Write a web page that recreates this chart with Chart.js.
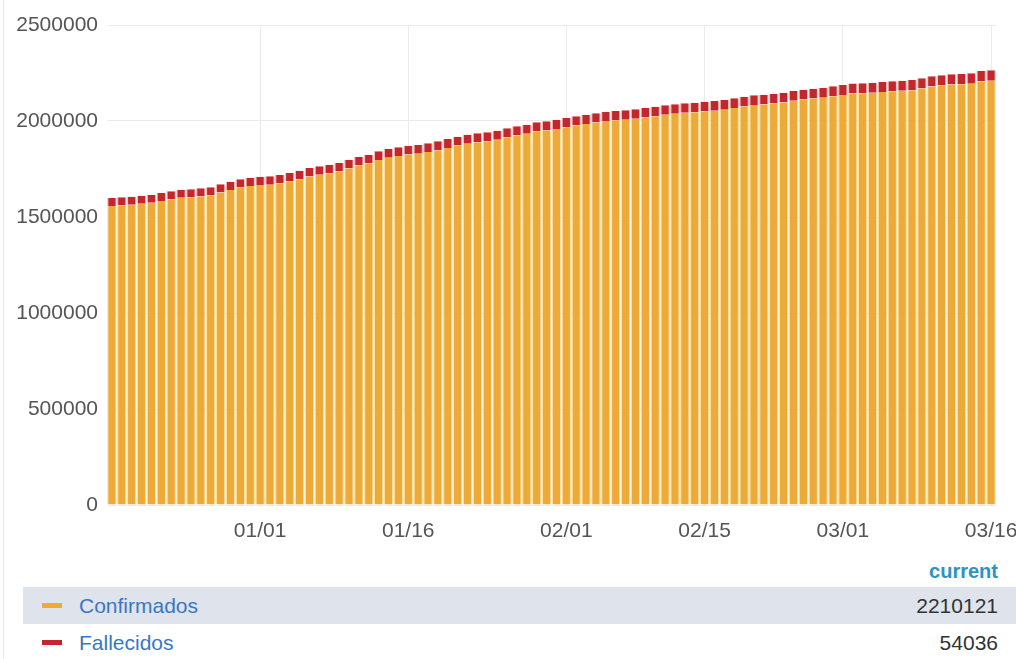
<!DOCTYPE html>
<html>
<head>
<meta charset="utf-8">
<script src="https://cdn.jsdelivr.net/npm/chart.js@4.4.1/dist/chart.umd.min.js"></script>
<style>
  html, body { margin: 0; padding: 0; background: #fff; }
  body { width: 1016px; height: 659px; position: relative; overflow: hidden; font-family: "Liberation Sans", Arial, sans-serif; }
  .frame { position: absolute; left: 3px; top: 0; bottom: 0; border-left: 1px solid #e9e9ee; }
  .chart-box { position: absolute; left: 0; top: 0; width: 1016px; height: 548px; }
  .legend { position: absolute; left: 23px; top: 556px; width: 993px; border-collapse: collapse; font-size: 21px; }
  .legend th { text-align: right; color: #2b93c6; font-weight: bold; font-size: 20px; height: 31px; padding: 0 18px 0 0; }
  .legend td { height: 37px; padding: 0; }
  .legend tr.alt td { background: #dfe3ec; }
  .legend .name { color: #3a77c4; padding-left: 56px; position: relative; }
  .legend .name i { position: absolute; left: 19px; top: 16px; width: 20px; height: 5px; }
  .legend .val { text-align: right; color: #333; padding-right: 18px; }
</style>
</head>
<body>
<div class="frame"></div>
<div class="chart-box"><canvas id="chart"></canvas></div>
<table class="legend" id="legend"></table>
<script>
// Casos acumulados por día (17/12 al 16/03), barras apiladas
const fechas = [
  "12/17","12/18","12/19","12/20","12/21","12/22","12/23","12/24","12/25","12/26","12/27","12/28","12/29","12/30","12/31",
  "01/01","01/02","01/03","01/04","01/05","01/06","01/07","01/08","01/09","01/10","01/11","01/12","01/13","01/14","01/15",
  "01/16","01/17","01/18","01/19","01/20","01/21","01/22","01/23","01/24","01/25","01/26","01/27","01/28","01/29","01/30","01/31",
  "02/01","02/02","02/03","02/04","02/05","02/06","02/07","02/08","02/09","02/10","02/11","02/12","02/13","02/14",
  "02/15","02/16","02/17","02/18","02/19","02/20","02/21","02/22","02/23","02/24","02/25","02/26","02/27","02/28",
  "03/01","03/02","03/03","03/04","03/05","03/06","03/07","03/08","03/09","03/10","03/11","03/12","03/13","03/14","03/15","03/16"
];

const confirmados = [
  1557558,1561044,1564019,1569097,1574216,1582990,1591674,1599837,1601761,1606819,1611887,1627412,1640874,1653204,1660847,
  1666416,1668409,1675100,1685347,1697156,1711048,1719732,1727906,1736660,1753757,1767640,1779439,1796967,1808777,1817471,
  1825704,1829270,1837954,1848201,1860010,1871829,1882086,1889287,1894416,1902589,1914929,1925186,1933369,1945719,1950837,1958550,
  1967745,1976419,1984582,1991704,1999917,2003473,2006949,2011987,2018588,2025189,2032311,2037409,2042527,2045482,
  2050000,2053997,2059035,2067729,2075952,2083154,2086109,2091147,2096186,2104870,2111481,2116579,2121697,2128819,
  2135420,2143062,2143944,2146909,2150445,2154001,2156956,2160432,2169116,2179372,2184421,2189529,2191002,2194537,2206447,2210121
];

const fallecidos = [
  41400,41560,41710,41840,41930,42010,42180,42350,42510,42660,42800,42900,42980,43150,43320,
  43480,43570,43650,43820,43990,44160,44330,44490,44590,44680,44860,45040,45220,45390,45550,
  45650,45730,45900,46070,46240,46400,46560,46650,46730,46890,47050,47210,47360,47510,47600,47700,
  47880,48060,48230,48400,48520,48610,48780,48950,49120,49290,49460,49570,49660,49830,
  50000,50170,50340,50500,50610,50700,50870,51040,51210,51380,51540,51650,51740,51910,
  52080,52250,52410,52570,52680,52770,52940,53110,53280,53440,53600,53700,53790,53900,53970,54036
];

const etiquetasX = ["01/01","01/16","02/01","02/15","03/01","03/16"];
const ticksY = [0, 500000, 1000000, 1500000, 2000000, 2500000];

const COLOR_CONF = "#eeaa38";
const COLOR_FALL = "#c3262c";
const GRID = "#ebebeb";

new Chart(document.getElementById("chart"), {
  type: "bar",
  data: {
    labels: fechas,
    datasets: [
      {
        label: "Confirmados", data: confirmados, backgroundColor: COLOR_CONF,
        borderColor: "#fbe3a4", borderWidth: { left: 1.2, right: 1.2, top: 0, bottom: 0 },
        barPercentage: 0.98, categoryPercentage: 1,
      },
      {
        label: "Fallecidos", data: fallecidos, backgroundColor: COLOR_FALL,
        borderColor: "#efc1b8", borderWidth: { left: 1.2, right: 1.2, top: 0, bottom: 0 },
        barPercentage: 0.98, categoryPercentage: 1,
      },
    ],
  },
  options: {
    responsive: true,
    maintainAspectRatio: false,
    animation: false,
    layout: { padding: { top: 25, right: 0, left: 0, bottom: 0 } },
    plugins: { legend: { display: false }, tooltip: { enabled: false } },
    scales: {
      x: {
        stacked: true,
        grid: {
          offset: false, drawTicks: false,
          color: (ctx) => (ctx.tick && etiquetasX.includes(fechas[ctx.tick.value]) ? GRID : "rgba(0,0,0,0)"),
        },
        border: { display: false },
        ticks: {
          autoSkip: false, maxRotation: 0, padding: 14, color: "#555",
          font: { family: "'Liberation Sans', Arial, sans-serif", size: 21 },
          callback: (v, i) => (etiquetasX.includes(fechas[i]) ? fechas[i] : ""),
        },
        // el último rótulo (03/16) queda cortado por el borde, como en el original
        afterFit: (s) => { s.height = 43; s.paddingLeft = 0; s.paddingRight = 20; },
      },
      y: {
        stacked: true,
        min: 0, max: 2500000,
        afterBuildTicks: (s) => { s.ticks = ticksY.map((v) => ({ value: v })); },
        grid: { color: GRID, drawTicks: false },
        border: { display: false },
        ticks: {
          padding: 9, color: "#555",
          font: { family: "'Liberation Sans', Arial, sans-serif", size: 21 },
          callback: (v) => String(v),
        },
        afterFit: (s) => { s.width = 107; },
      },
    },
  },
});

// leyenda en forma de tabla con el valor actual
const series = [
  { nombre: "Confirmados", color: COLOR_CONF, datos: confirmados },
  { nombre: "Fallecidos", color: COLOR_FALL, datos: fallecidos },
];
const legend = document.getElementById("legend");
legend.innerHTML =
  `<tr><th colspan="2">current</th></tr>` +
  series
    .map((s, i) => `<tr class="${i === 0 ? "alt" : ""}"><td class="name"><i style="background:${s.color}"></i>${s.nombre}</td><td class="val">${s.datos[s.datos.length - 1]}</td></tr>`)
    .join("");
</script>
</body>
</html>
